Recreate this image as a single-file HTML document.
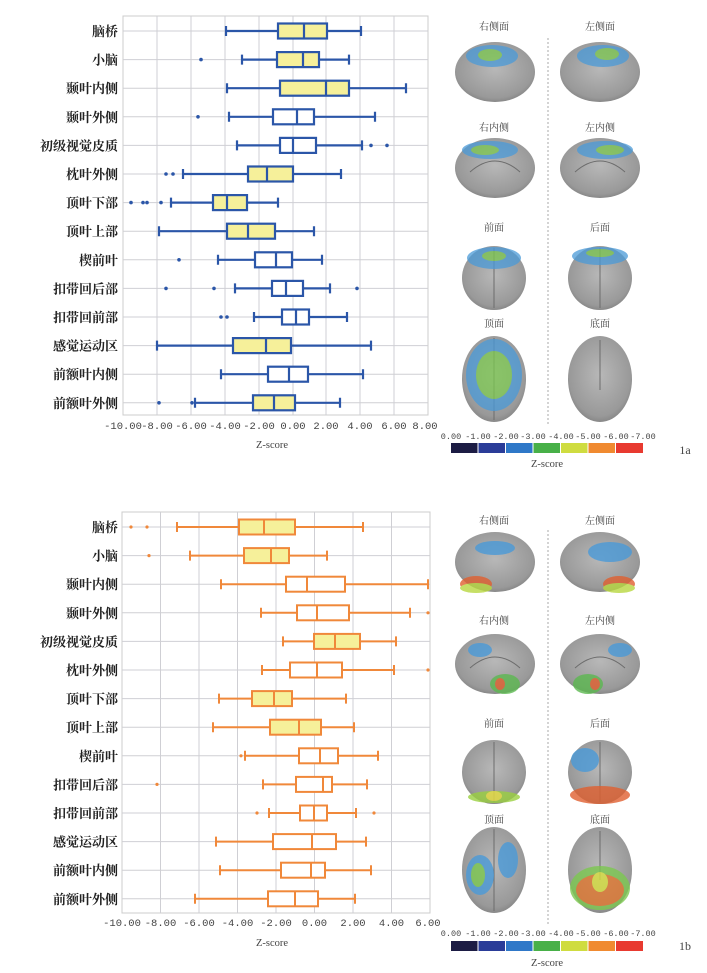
<!DOCTYPE html>
<html><head><meta charset="utf-8"><style>
html,body{margin:0;padding:0;background:#fff;}
svg{display:block}
.cat{font-family:"Liberation Serif","Noto Serif CJK SC",serif;font-weight:bold;font-size:13px;fill:#222;text-anchor:end}
.tk{font-family:"Liberation Mono","Noto Sans CJK SC",monospace;font-size:10.5px;fill:#444;text-anchor:middle}
.lb{font-family:"Liberation Serif","Noto Serif CJK SC",serif;font-size:10.5px;fill:#444;text-anchor:middle}
.cb{font-family:"Liberation Mono",monospace;font-size:8.5px;fill:#444;text-anchor:middle}
.g line{stroke:#cfcfd4;stroke-width:1}
.B{stroke:#2b56a8;stroke-width:2.2;fill:none}
.O{stroke:#f0883a;stroke-width:2;fill:none}
</style></head><body>
<svg width="707" height="973" viewBox="0 0 707 973" xmlns="http://www.w3.org/2000/svg">
<defs>
<radialGradient id="br" cx="50%" cy="45%" r="60%"><stop offset="0" stop-color="#b8b8b8"/><stop offset="0.8" stop-color="#999"/><stop offset="1" stop-color="#7c7c7c"/></radialGradient>
</defs>

<!-- TOP CHART -->
<rect x="123" y="16" width="305" height="399" fill="#fff" stroke="#ccc"/>
<g class="g">
<line x1="157" y1="16" x2="157" y2="415"/><line x1="191" y1="16" x2="191" y2="415"/><line x1="225" y1="16" x2="225" y2="415"/><line x1="259" y1="16" x2="259" y2="415"/><line x1="293" y1="16" x2="293" y2="415"/><line x1="326" y1="16" x2="326" y2="415"/><line x1="360" y1="16" x2="360" y2="415"/><line x1="394" y1="16" x2="394" y2="415"/>
<line x1="123" y1="31" x2="428" y2="31"/><line x1="123" y1="59.6" x2="428" y2="59.6"/><line x1="123" y1="88.2" x2="428" y2="88.2"/><line x1="123" y1="116.8" x2="428" y2="116.8"/><line x1="123" y1="145.4" x2="428" y2="145.4"/><line x1="123" y1="174" x2="428" y2="174"/><line x1="123" y1="202.6" x2="428" y2="202.6"/><line x1="123" y1="231.2" x2="428" y2="231.2"/><line x1="123" y1="259.8" x2="428" y2="259.8"/><line x1="123" y1="288.4" x2="428" y2="288.4"/><line x1="123" y1="317" x2="428" y2="317"/><line x1="123" y1="345.6" x2="428" y2="345.6"/><line x1="123" y1="374.2" x2="428" y2="374.2"/><line x1="123" y1="402.8" x2="428" y2="402.8"/>
</g>
<g class="cat">
<text x="118" y="36">脑桥</text><text x="118" y="64.6">小脑</text><text x="118" y="93.2">颞叶内侧</text><text x="118" y="121.8">颞叶外侧</text><text x="118" y="150.4">初级视觉皮质</text><text x="118" y="179">枕叶外侧</text><text x="118" y="207.6">顶叶下部</text><text x="118" y="236.2">顶叶上部</text><text x="118" y="264.8">楔前叶</text><text x="118" y="293.4">扣带回后部</text><text x="118" y="322">扣带回前部</text><text x="118" y="350.6">感觉运动区</text><text x="118" y="379.2">前额叶内侧</text><text x="118" y="407.8">前额叶外侧</text>
</g>
<g class="tk">
<text x="123" y="429">-10.00</text><text x="157" y="429">-8.00</text><text x="191" y="429">-6.00</text><text x="225" y="429">-4.00</text><text x="259" y="429">-2.00</text><text x="293" y="429">0.00</text><text x="326" y="429">2.00</text><text x="360" y="429">4.00</text><text x="394" y="429">6.00</text><text x="425" y="429">8.00</text>
</g>
<text class="lb" x="272" y="448">Z-score</text>

<g class="B">
<!-- row: y, wl, q1, med, q3, wh -->
<path d="M226 31H278M327 31H361M226 26V36M361 26V36"/><rect x="278" y="23.5" width="49" height="15" fill="#f6f09a"/><path d="M304 23.5V38.5"/>
<path d="M242 59.6H277M319 59.6H349M242 54.6V64.6M349 54.6V64.6"/><rect x="277" y="52.1" width="42" height="15" fill="#f6f09a"/><path d="M303 52.1V67.1"/>
<path d="M227 88.2H280M349 88.2H406M227 83.2V93.2M406 83.2V93.2"/><rect x="280" y="80.7" width="69" height="15" fill="#f6f09a"/><path d="M326 80.7V95.7"/>
<path d="M229 116.8H273M314 116.8H375M229 111.8V121.8M375 111.8V121.8"/><rect x="273" y="109.3" width="41" height="15" fill="#fff"/><path d="M297 109.3V124.3"/>
<path d="M237 145.4H280M316 145.4H362M237 140.4V150.4M362 140.4V150.4"/><rect x="280" y="137.9" width="36" height="15" fill="#fff"/><path d="M293 137.9V152.9"/>
<path d="M183 174H248M293 174H341M183 169V179M341 169V179"/><rect x="248" y="166.5" width="45" height="15" fill="#f6f09a"/><path d="M267 166.5V181.5"/>
<path d="M171 202.6H213M247 202.6H278M171 197.6V207.6M278 197.6V207.6"/><rect x="213" y="195.1" width="34" height="15" fill="#f6f09a"/><path d="M227 195.1V210.1"/>
<path d="M159 231.2H227M275 231.2H314M159 226.2V236.2M314 226.2V236.2"/><rect x="227" y="223.7" width="48" height="15" fill="#f6f09a"/><path d="M248 223.7V238.7"/>
<path d="M218 259.8H255M292 259.8H322M218 254.8V264.8M322 254.8V264.8"/><rect x="255" y="252.3" width="37" height="15" fill="#fff"/><path d="M276 252.3V267.3"/>
<path d="M235 288.4H272M303 288.4H330M235 283.4V293.4M330 283.4V293.4"/><rect x="272" y="280.9" width="31" height="15" fill="#fff"/><path d="M286 280.9V295.9"/>
<path d="M254 317H282M309 317H347M254 312V322M347 312V322"/><rect x="282" y="309.5" width="27" height="15" fill="#fff"/><path d="M296 309.5V324.5"/>
<path d="M157 345.6H233M291 345.6H371M157 340.6V350.6M371 340.6V350.6"/><rect x="233" y="338.1" width="58" height="15" fill="#f6f09a"/><path d="M266 338.1V353.1"/>
<path d="M221 374.2H268M308 374.2H363M221 369.2V379.2M363 369.2V379.2"/><rect x="268" y="366.7" width="40" height="15" fill="#fff"/><path d="M289 366.7V381.7"/>
<path d="M195 402.8H253M295 402.8H340M195 397.8V407.8M340 397.8V407.8"/><rect x="253" y="395.3" width="42" height="15" fill="#f6f09a"/><path d="M274 395.3V410.3"/>
</g>
<g fill="#2b56a8">
<circle cx="201" cy="59.6" r="1.8"/><circle cx="198" cy="116.8" r="1.8"/><circle cx="371" cy="145.4" r="1.8"/><circle cx="387" cy="145.4" r="1.8"/><circle cx="166" cy="174" r="1.8"/><circle cx="173" cy="174" r="1.8"/><circle cx="131" cy="202.6" r="1.8"/><circle cx="143" cy="202.6" r="1.8"/><circle cx="147" cy="202.6" r="1.8"/><circle cx="161" cy="202.6" r="1.8"/><circle cx="179" cy="259.8" r="1.8"/><circle cx="166" cy="288.4" r="1.8"/><circle cx="214" cy="288.4" r="1.8"/><circle cx="357" cy="288.4" r="1.8"/><circle cx="221" cy="317" r="1.8"/><circle cx="227" cy="317" r="1.8"/><circle cx="159" cy="402.8" r="1.8"/><circle cx="192" cy="402.8" r="1.8"/>
</g>

<!-- BOTTOM CHART -->
<rect x="122" y="512" width="308" height="401" fill="#fff" stroke="#ccc"/>
<g class="g">
<line x1="160.5" y1="512" x2="160.5" y2="913"/><line x1="199" y1="512" x2="199" y2="913"/><line x1="237.5" y1="512" x2="237.5" y2="913"/><line x1="276" y1="512" x2="276" y2="913"/><line x1="314.5" y1="512" x2="314.5" y2="913"/><line x1="353" y1="512" x2="353" y2="913"/><line x1="391.5" y1="512" x2="391.5" y2="913"/>
<line x1="122" y1="527" x2="430" y2="527"/><line x1="122" y1="555.6" x2="430" y2="555.6"/><line x1="122" y1="584.2" x2="430" y2="584.2"/><line x1="122" y1="612.8" x2="430" y2="612.8"/><line x1="122" y1="641.4" x2="430" y2="641.4"/><line x1="122" y1="670" x2="430" y2="670"/><line x1="122" y1="698.6" x2="430" y2="698.6"/><line x1="122" y1="727.2" x2="430" y2="727.2"/><line x1="122" y1="755.8" x2="430" y2="755.8"/><line x1="122" y1="784.4" x2="430" y2="784.4"/><line x1="122" y1="813" x2="430" y2="813"/><line x1="122" y1="841.6" x2="430" y2="841.6"/><line x1="122" y1="870.2" x2="430" y2="870.2"/><line x1="122" y1="898.8" x2="430" y2="898.8"/>
</g>
<g class="cat">
<text x="118" y="532">脑桥</text><text x="118" y="560.6">小脑</text><text x="118" y="589.2">颞叶内侧</text><text x="118" y="617.8">颞叶外侧</text><text x="118" y="646.4">初级视觉皮质</text><text x="118" y="675">枕叶外侧</text><text x="118" y="703.6">顶叶下部</text><text x="118" y="732.2">顶叶上部</text><text x="118" y="760.8">楔前叶</text><text x="118" y="789.4">扣带回后部</text><text x="118" y="818">扣带回前部</text><text x="118" y="846.6">感觉运动区</text><text x="118" y="875.2">前额叶内侧</text><text x="118" y="903.8">前额叶外侧</text>
</g>
<g class="tk">
<text x="122" y="926">-10.00</text><text x="160.5" y="926">-8.00</text><text x="199" y="926">-6.00</text><text x="237.5" y="926">-4.00</text><text x="276" y="926">-2.00</text><text x="314.5" y="926">0.00</text><text x="353" y="926">2.00</text><text x="391.5" y="926">4.00</text><text x="428" y="926">6.00</text>
</g>
<text class="lb" x="272" y="946">Z-score</text>

<g class="O">
<path d="M177 527H239M295 527H363M177 522V532M363 522V532"/><rect x="239" y="519.5" width="56" height="15" fill="#f6f09a"/><path d="M264 519.5V534.5"/>
<path d="M190 555.6H244M289 555.6H327M190 550.6V560.6M327 550.6V560.6"/><rect x="244" y="548.1" width="45" height="15" fill="#f6f09a"/><path d="M271 548.1V563.1"/>
<path d="M221 584.2H286M345 584.2H428M221 579.2V589.2M428 579.2V589.2"/><rect x="286" y="576.7" width="59" height="15" fill="#fff"/><path d="M307 576.7V591.7"/>
<path d="M261 612.8H297M349 612.8H410M261 607.8V617.8M410 607.8V617.8"/><rect x="297" y="605.3" width="52" height="15" fill="#fff"/><path d="M317 605.3V620.3"/>
<path d="M283 641.4H314M360 641.4H396M283 636.4V646.4M396 636.4V646.4"/><rect x="314" y="633.9" width="46" height="15" fill="#f6f09a"/><path d="M335 633.9V648.9"/>
<path d="M262 670H290M342 670H394M262 665V675M394 665V675"/><rect x="290" y="662.5" width="52" height="15" fill="#fff"/><path d="M317 662.5V677.5"/>
<path d="M219 698.6H252M292 698.6H346M219 693.6V703.6M346 693.6V703.6"/><rect x="252" y="691.1" width="40" height="15" fill="#f6f09a"/><path d="M274 691.1V706.1"/>
<path d="M213 727.2H270M321 727.2H354M213 722.2V732.2M354 722.2V732.2"/><rect x="270" y="719.7" width="51" height="15" fill="#f6f09a"/><path d="M299 719.7V734.7"/>
<path d="M245 755.8H299M338 755.8H378M245 750.8V760.8M378 750.8V760.8"/><rect x="299" y="748.3" width="39" height="15" fill="#fff"/><path d="M320 748.3V763.3"/>
<path d="M263 784.4H296M332 784.4H367M263 779.4V789.4M367 779.4V789.4"/><rect x="296" y="776.9" width="36" height="15" fill="#fff"/><path d="M323 776.9V791.9"/>
<path d="M269 813H300M327 813H356M269 808V818M356 808V818"/><rect x="300" y="805.5" width="27" height="15" fill="#fff"/><path d="M314 805.5V820.5"/>
<path d="M216 841.6H273M336 841.6H366M216 836.6V846.6M366 836.6V846.6"/><rect x="273" y="834.1" width="63" height="15" fill="#fff"/><path d="M312 834.1V849.1"/>
<path d="M220 870.2H281M325 870.2H371M220 865.2V875.2M371 865.2V875.2"/><rect x="281" y="862.7" width="44" height="15" fill="#fff"/><path d="M311 862.7V877.7"/>
<path d="M195 898.8H268M318 898.8H355M195 893.8V903.8M355 893.8V903.8"/><rect x="268" y="891.3" width="50" height="15" fill="#fff"/><path d="M295 891.3V906.3"/>
</g>
<g fill="#f0883a">
<circle cx="131" cy="527" r="1.6"/><circle cx="147" cy="527" r="1.6"/><circle cx="149" cy="555.6" r="1.6"/><circle cx="428" cy="612.8" r="1.6"/><circle cx="428" cy="670" r="1.6"/><circle cx="241" cy="755.8" r="1.6"/><circle cx="157" cy="784.4" r="1.6"/><circle cx="257" cy="813" r="1.6"/><circle cx="374" cy="813" r="1.6"/>
</g>

<!-- BRAIN PANELS -->
<g class="lb" style="font-size:10px">
<text x="494" y="30">右侧面</text><text x="600" y="30">左侧面</text>
<text x="494" y="131">右内侧</text><text x="600" y="131">左内侧</text>
<text x="494" y="231">前面</text><text x="600" y="231">后面</text>
<text x="494" y="327">顶面</text><text x="600" y="327">底面</text>
<text x="494" y="524">右侧面</text><text x="600" y="524">左侧面</text>
<text x="494" y="624">右内侧</text><text x="600" y="624">左内侧</text>
<text x="494" y="727">前面</text><text x="600" y="727">后面</text>
<text x="494" y="823">顶面</text><text x="600" y="823">底面</text>
</g>
<line x1="548" y1="38" x2="548" y2="425" stroke="#aaa" stroke-dasharray="2,2"/>
<line x1="548" y1="530" x2="548" y2="925" stroke="#aaa" stroke-dasharray="2,2"/>

<g fill="url(#br)">
<!-- top -->
<ellipse cx="495" cy="72" rx="40" ry="30"/><ellipse cx="600" cy="72" rx="40" ry="30"/>
<ellipse cx="495" cy="168" rx="40" ry="30"/><ellipse cx="600" cy="168" rx="40" ry="30"/>
<ellipse cx="494" cy="278" rx="32" ry="32"/><ellipse cx="600" cy="278" rx="32" ry="32"/>
<ellipse cx="494" cy="379" rx="32" ry="43"/><ellipse cx="600" cy="379" rx="32" ry="43"/>
<!-- bottom -->
<ellipse cx="495" cy="562" rx="40" ry="30"/><ellipse cx="600" cy="562" rx="40" ry="30"/>
<ellipse cx="495" cy="664" rx="40" ry="30"/><ellipse cx="600" cy="664" rx="40" ry="30"/>
<ellipse cx="494" cy="772" rx="32" ry="32"/><ellipse cx="600" cy="772" rx="32" ry="32"/>
<ellipse cx="494" cy="870" rx="32" ry="43"/><ellipse cx="600" cy="870" rx="32" ry="43"/>
</g>
<g fill="none" stroke="#6c6c6c" stroke-width="1">
<line x1="494" y1="248" x2="494" y2="308"/><line x1="600" y1="248" x2="600" y2="308"/>
<line x1="494" y1="338" x2="494" y2="420"/><line x1="600" y1="340" x2="600" y2="390"/>
<line x1="494" y1="742" x2="494" y2="802"/><line x1="600" y1="742" x2="600" y2="802"/>
<line x1="494" y1="829" x2="494" y2="911"/><line x1="600" y1="831" x2="600" y2="880"/>
<path d="M470 172 Q495 150 520 172"/><path d="M575 172 Q600 150 625 172"/>
<path d="M470 668 Q495 646 520 668"/><path d="M575 668 Q600 646 625 668"/>
</g>
<!-- activation blobs top -->
<g opacity="0.75">
<ellipse cx="492" cy="56" rx="26" ry="11" fill="#4a9ad8"/><ellipse cx="490" cy="55" rx="12" ry="6" fill="#7cc850"/>
<ellipse cx="603" cy="56" rx="26" ry="11" fill="#4a9ad8"/><ellipse cx="607" cy="54" rx="12" ry="6" fill="#7cc850"/>
<ellipse cx="490" cy="150" rx="28" ry="9" fill="#4a9ad8"/><ellipse cx="485" cy="150" rx="14" ry="5" fill="#7cc850"/>
<ellipse cx="605" cy="150" rx="28" ry="9" fill="#4a9ad8"/><ellipse cx="610" cy="150" rx="14" ry="5" fill="#7cc850"/>
<ellipse cx="494" cy="258" rx="27" ry="11" fill="#4a9ad8"/><ellipse cx="494" cy="256" rx="12" ry="5" fill="#7cc850"/>
<ellipse cx="600" cy="256" rx="28" ry="9" fill="#4a9ad8"/><ellipse cx="600" cy="253" rx="14" ry="4" fill="#7cc850"/>
<ellipse cx="494" cy="375" rx="28" ry="36" fill="#4a9ad8"/><ellipse cx="494" cy="375" rx="18" ry="24" fill="#7cc850"/>
</g>
<!-- activation blobs bottom -->
<g opacity="0.8">
<ellipse cx="495" cy="548" rx="20" ry="7" fill="#4a9ad8"/><ellipse cx="476" cy="584" rx="16" ry="8" fill="#e06030"/><ellipse cx="476" cy="588" rx="16" ry="5" fill="#b8d840"/>
<ellipse cx="610" cy="552" rx="22" ry="10" fill="#4a9ad8"/><ellipse cx="619" cy="584" rx="16" ry="8" fill="#e06030"/><ellipse cx="619" cy="588" rx="16" ry="5" fill="#b8d840"/>
<ellipse cx="480" cy="650" rx="12" ry="7" fill="#4a9ad8"/><ellipse cx="505" cy="684" rx="15" ry="10" fill="#5cb850"/><ellipse cx="500" cy="684" rx="5" ry="6" fill="#e06030"/>
<ellipse cx="620" cy="650" rx="12" ry="7" fill="#4a9ad8"/><ellipse cx="588" cy="684" rx="15" ry="10" fill="#5cb850"/><ellipse cx="595" cy="684" rx="5" ry="6" fill="#e06030"/>
<ellipse cx="494" cy="797" rx="26" ry="6" fill="#9ad040"/><ellipse cx="494" cy="796" rx="8" ry="5" fill="#e8e040"/>
<ellipse cx="585" cy="760" rx="14" ry="12" fill="#4a9ad8"/><ellipse cx="600" cy="795" rx="30" ry="9" fill="#e06030"/>
<ellipse cx="480" cy="875" rx="14" ry="20" fill="#4a9ad8"/><ellipse cx="478" cy="875" rx="7" ry="12" fill="#7cc850"/><ellipse cx="508" cy="860" rx="10" ry="18" fill="#4a9ad8"/>
<ellipse cx="600" cy="888" rx="30" ry="22" fill="#7cc850"/><ellipse cx="600" cy="890" rx="24" ry="16" fill="#e07830"/><ellipse cx="600" cy="882" rx="8" ry="10" fill="#d8e040"/>
</g>

<!-- COLORBARS -->
<g class="cb">
<text x="451" y="439">0.00</text><text x="478" y="439">-1.00</text><text x="506" y="439">-2.00</text><text x="533" y="439">-3.00</text><text x="561" y="439">-4.00</text><text x="588" y="439">-5.00</text><text x="616" y="439">-6.00</text><text x="643" y="439">-7.00</text>
<text x="451" y="936">0.00</text><text x="478" y="936">-1.00</text><text x="506" y="936">-2.00</text><text x="533" y="936">-3.00</text><text x="561" y="936">-4.00</text><text x="588" y="936">-5.00</text><text x="616" y="936">-6.00</text><text x="643" y="936">-7.00</text>
</g>
<g>
<rect x="451" y="443" width="26.5" height="10" fill="#1c1c44"/><rect x="478.5" y="443" width="26.5" height="10" fill="#2a3c98"/><rect x="506" y="443" width="26.5" height="10" fill="#2f78c8"/><rect x="533.5" y="443" width="26.5" height="10" fill="#48b048"/><rect x="561" y="443" width="26.5" height="10" fill="#cfdc40"/><rect x="588.5" y="443" width="26.5" height="10" fill="#f08a30"/><rect x="616" y="443" width="27" height="10" fill="#e83a30"/>
<rect x="451" y="941" width="26.5" height="10" fill="#1c1c44"/><rect x="478.5" y="941" width="26.5" height="10" fill="#2a3c98"/><rect x="506" y="941" width="26.5" height="10" fill="#2f78c8"/><rect x="533.5" y="941" width="26.5" height="10" fill="#48b048"/><rect x="561" y="941" width="26.5" height="10" fill="#cfdc40"/><rect x="588.5" y="941" width="26.5" height="10" fill="#f08a30"/><rect x="616" y="941" width="27" height="10" fill="#e83a30"/>
</g>
<text class="lb" x="547" y="467">Z-score</text>
<text class="lb" x="547" y="966">Z-score</text>
<text class="lb" x="685" y="454" style="font-size:12px">1a</text>
<text class="lb" x="685" y="950" style="font-size:12px">1b</text>
</svg>
</body></html>
